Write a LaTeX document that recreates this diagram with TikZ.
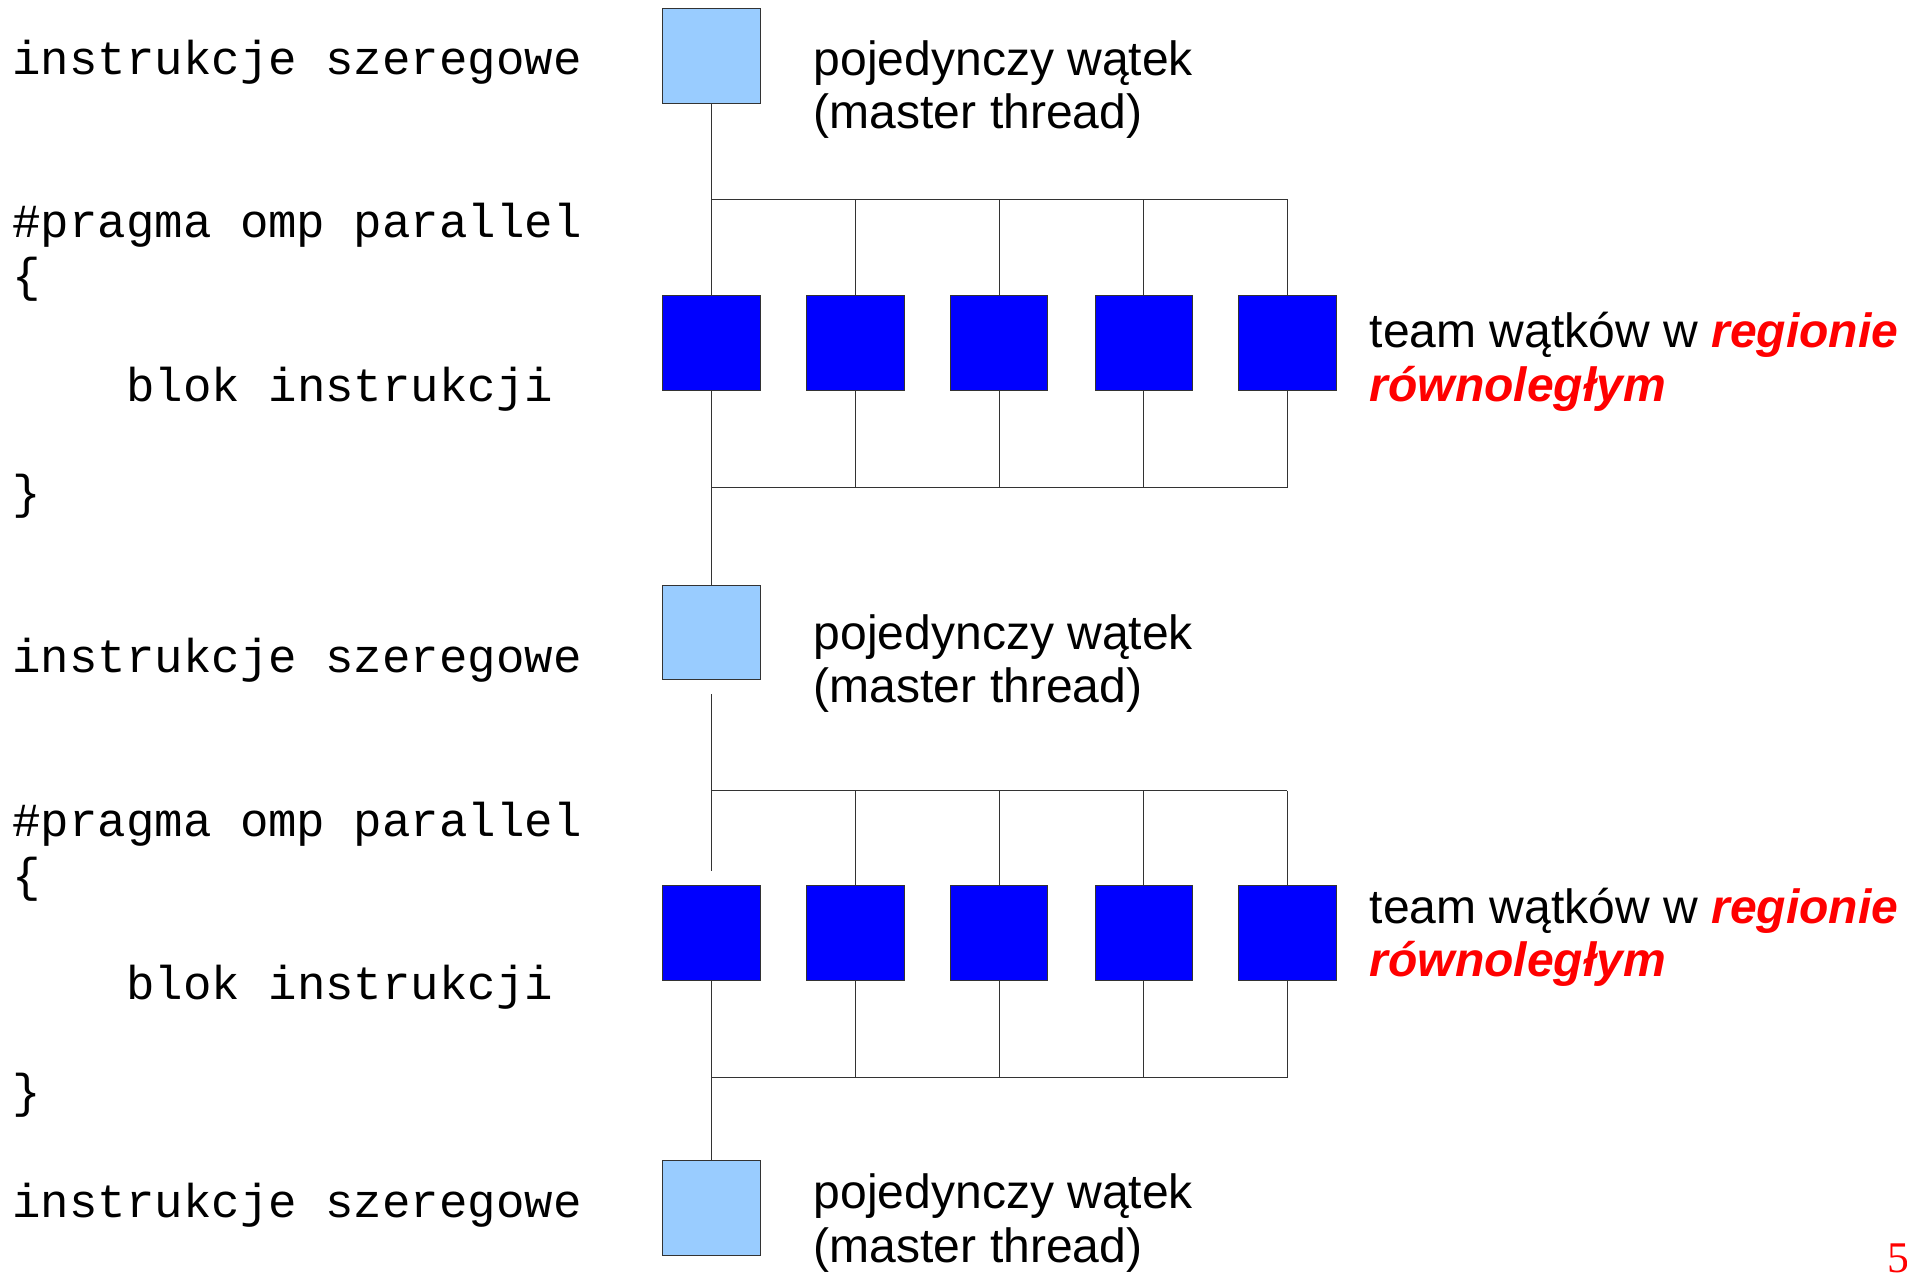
\documentclass[tikz,border=0pt]{standalone}
\usepackage{fontspec}
\setmainfont{Liberation Sans}
\setmonofont{Liberation Mono}
\newfontfamily\pageserif{Liberation Serif}
\definecolor{lightbox}{HTML}{99CCFF}
\definecolor{darkbox}{HTML}{0000FF}
\definecolor{wire}{HTML}{333333}
\definecolor{hot}{HTML}{FF0000}
\tikzset{
  master/.style={draw=wire, line width=0.8pt, fill=lightbox, minimum width=80, minimum height=78, inner sep=0pt},
  worker/.style={draw=wire, line width=0.8pt, fill=darkbox, minimum width=80, minimum height=78, inner sep=0pt},
  conn/.style={draw=wire, line width=1pt},
  code/.style={anchor=base west, inner sep=0pt, font=\ttfamily\fontsize{39}{44}\selectfont},
  label/.style={anchor=base west, inner sep=0pt, font=\fontsize{39.5}{44}\selectfont, align=left},
}
\begin{document}
\begin{tikzpicture}[x=1pt,y=-1pt]
\useasboundingbox (0,0) rectangle (1568,1046);
\fill[white] (0,0) rectangle (1568,1046);

% code column
\node[code] (c1) at (10,61) {instrukcje szeregowe};
\node[code] (c2) at (10,195) {\#pragma omp parallel};
\node[code] (c3) at (10,240) {\{};
\node[code] (c4) at (10,330) {\ \ \ \ blok instrukcji};
\node[code] (c5) at (10,418) {\}};
\node[code] (c6) at (10,553) {instrukcje szeregowe};
\node[code] (c7) at (10,688) {\#pragma omp parallel};
\node[code] (c8) at (10,733) {\{};
\node[code] (c9) at (10,822) {\ \ \ \ blok instrukcji};
\node[code] (c10) at (10,911) {\}};
\node[code] (c11) at (10,1001) {instrukcje szeregowe};

% master boxes
\node[master] (m1) at (585,46) {};
\node[master] (m2) at (585,520) {};
\node[master] (m3) at (585,993) {};

% worker rows
\foreach \i/\x in {1/585,2/703.5,3/821.5,4/940.5,5/1058.5}{
  \node[worker] (a\i) at (\x,282) {};
  \node[worker] (b\i) at (\x,767) {};
}

% bus coordinates
\coordinate (ta) at (585,164);
\coordinate (ba) at (585,401);
\coordinate (tb) at (585,650);
\coordinate (bb) at (585,886);
\coordinate (g1) at (585,571);
\coordinate (g2) at (585,716);

% region 1
\draw[conn] (m1.south) -- (a1.north);
\draw[conn] (ta) -- (ta -| a5.north);
\foreach \i in {2,...,5}{ \draw[conn] (ta -| a\i.north) -- (a\i.north); }
\foreach \i in {1,...,5}{ \draw[conn] (a\i.south) -- (ba -| a\i.south); }
\draw[conn] (ba) -- (ba -| a5.south);
\draw[conn] (ba) -- (m2.north);

% region 2
\draw[conn] (g1) -- (g2);
\draw[conn] (tb) -- (tb -| b5.north);
\foreach \i in {2,...,5}{ \draw[conn] (tb -| b\i.north) -- (b\i.north); }
\foreach \i in {1,...,5}{ \draw[conn] (b\i.south) -- (bb -| b\i.south); }
\draw[conn] (bb) -- (bb -| b5.south);
\draw[conn] (bb) -- (m3.north);

% labels (base = last line)
\node[label] (l1) at (669,106) {pojedynczy wątek\\(master thread)};
\node[label] (l2) at (669,578) {pojedynczy wątek\\(master thread)};
\node[label] (l3) at (669,1038) {pojedynczy wątek\\(master thread)};
\node[label] (t1) at (1126,330) {team wątków w \textcolor{hot}{\bfseries\itshape regionie}\\\textcolor{hot}{\bfseries\itshape równoległym}};
\node[label] (t2) at (1126,803) {team wątków w \textcolor{hot}{\bfseries\itshape regionie}\\\textcolor{hot}{\bfseries\itshape równoległym}};

% page number
\node[anchor=base east, inner sep=0pt, text=hot, font=\pageserif\fontsize{36}{36}\selectfont] (pg) at (1570,1046) {5};
\end{tikzpicture}
\end{document}
